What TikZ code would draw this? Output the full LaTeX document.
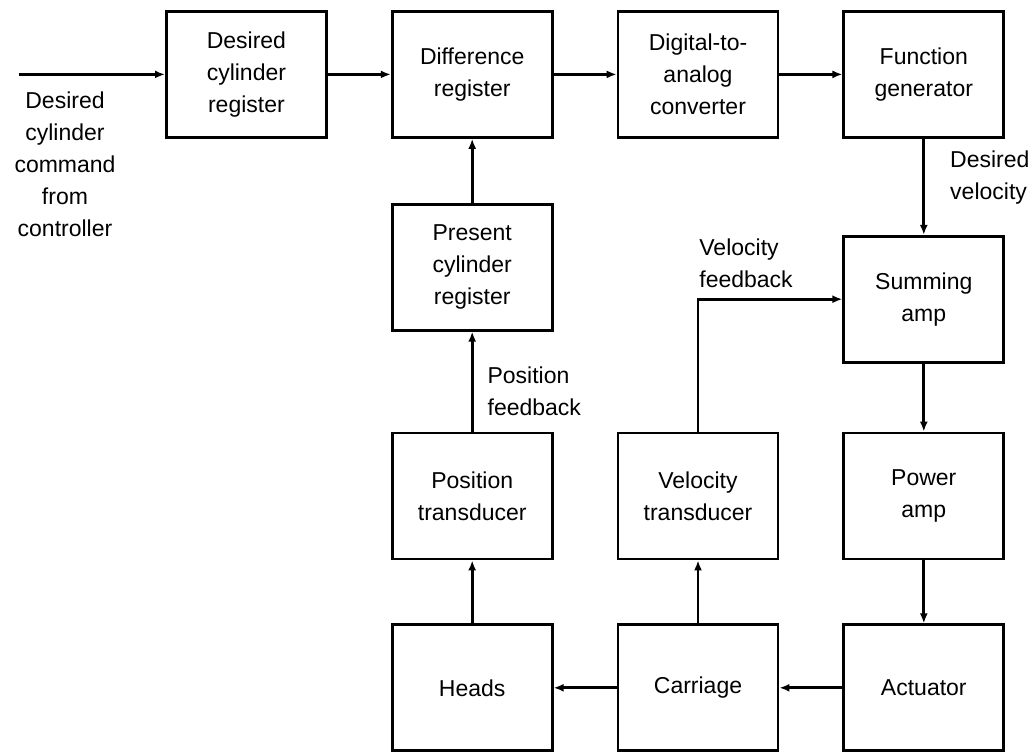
\documentclass[tikz,border=0pt]{standalone}
\usepackage{fontspec}
\setmainfont{Liberation Sans}
\usetikzlibrary{positioning}
\usetikzlibrary{arrows.meta}
\usetikzlibrary{calc}
\tikzset{
  % A block of the seek servo
  blk/.style={
    draw=black, fill=white, rectangle, align=center, line width=1.4pt,
    font=\fontsize{11.5}{16}\selectfont, inner sep=2pt,
    minimum width=80pt, minimum height=63pt},
  % Signal paths
  sig/.style={-{Latex[length=5pt,width=4pt]}, draw=black, line width=1.4pt},
  lbl/.style={font=\fontsize{11.5}{16}\selectfont, inner sep=1.5pt, align=left},
}

\begin{document}
\begin{tikzpicture}[node distance=31.5pt]

  % --- Command path ----------------------------------------------------
  \node[blk]                (dcr)  {Desired\\cylinder\\register};
  \node[blk, right=of dcr]  (diff) {Difference\\register};
  \node[blk, right=of diff] (dac)  {Digital-to-\\analog\\converter};
  \node[blk, right=of dac]  (fg)   {Function\\generator};

  \useasboundingbox ($(dcr.north west)+(-82.5pt,5pt)$) rectangle ++(515.5pt,-376.5pt);

  % --- Feedback and drive ----------------------------------------------
  \node[blk, below=32pt of diff] (pres)   {Present\\cylinder\\register};
  \node[blk, below=48pt of fg]   (sum)    {Summing\\amp};
  \node[blk, below=50pt of pres] (ptrans) {Position\\transducer};
  \node[blk, right=of ptrans]    (vtrans) {Velocity\\transducer};
  \node[blk, right=of vtrans]    (power)  {Power\\amp};

  \node[blk, below=31.5pt of ptrans] (heads) {Heads};
  \node[blk, right=of heads]         (car)   {Carriage};
  \node[blk, right=of car]           (act)   {Actuator};

  % --- Input from controller -------------------------------------------
  \coordinate[left=73pt of dcr] (cmd);
  \node[lbl, align=center] (cmdlbl) at ($(cmd)+(23pt,-45pt)$)
       {Desired\\cylinder\\command\\from\\controller};

  % --- Signals ---------------------------------------------------------
  \draw[sig] (cmd) -- (dcr);
  \draw[sig] (dcr) -- (diff);
  \draw[sig] (diff) -- (dac);
  \draw[sig] (dac) -- (fg);
  \draw[sig] (fg) -- node[lbl, right=11pt, pos=0.4] {Desired\\velocity} (sum);
  \draw[sig] (sum) -- (power);
  \draw[sig] (power) -- (act);
  \draw[sig] (act) -- (car);
  \draw[sig] (car) -- (heads);
  \draw[sig] (heads) -- (ptrans);
  \draw[sig] (car) -- (vtrans);
  \draw[sig] (ptrans) -- node[lbl, right=5.5pt, pos=0.4] {Position\\feedback} (pres);
  \draw[sig] (pres) -- (diff);
  \draw[sig] (vtrans.north) |- node[lbl, pos=0.5, anchor=south west, inner sep=0pt, yshift=5pt]
       {Velocity\\feedback} (sum.west);

\end{tikzpicture}
\end{document}
